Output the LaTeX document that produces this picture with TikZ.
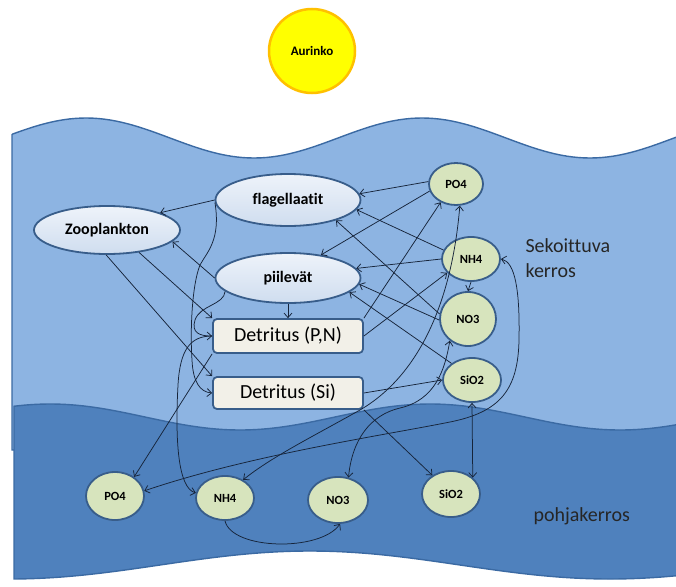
\documentclass[tikz,border=0pt]{standalone}
\usepackage{fontspec}
\setmainfont{Carlito}[Ligatures={NoCommon,NoContextual}]
\usetikzlibrary{arrows.meta,shapes.geometric}

\definecolor{lightsea}{HTML}{8DB4E2}
\definecolor{deepsea}{HTML}{4F81BD}
\definecolor{seaedge}{HTML}{3B6AA3}
\definecolor{elltop}{HTML}{EEF3FA}
\definecolor{ellbot}{HTML}{CFDDEF}
\definecolor{nodeedge}{HTML}{385D8A}
\definecolor{nutfill}{HTML}{D7E4BD}
\definecolor{detfill}{HTML}{F2F0E8}
\definecolor{sunfill}{HTML}{FFFF00}
\definecolor{sunedge}{HTML}{FFC000}
\definecolor{linkcol}{HTML}{16243A}

\begin{document}
\begin{tikzpicture}[x=1pt,y=-1pt,
  organism/.style={ellipse, draw=nodeedge, line width=1.8pt, top color=elltop, bottom color=ellbot,
    inner sep=0pt, font=\bfseries\fontsize{16}{18}\selectfont},
  nutrient/.style={ellipse, draw=nodeedge, line width=1.8pt, fill=nutfill, inner sep=0pt,
    font=\bfseries\fontsize{12.5}{14}\selectfont},
  detbox/.style={rectangle, rounded corners=4pt, draw=nodeedge, line width=1.8pt, fill=detfill,
    minimum width=150pt, inner sep=0pt, font=\fontsize{20}{22}\selectfont},
  layertext/.style={anchor=base west, text=black!85, font=\fontsize{20}{24}\selectfont},
  link/.style={draw=linkcol, line width=0.75pt, -{Straight Barb[length=4.5pt,width=8pt]}},
  dlink/.style={draw=linkcol, line width=0.75pt, {Straight Barb[length=4.5pt,width=8pt]}-{Straight Barb[length=4.5pt,width=8pt]}}
]
\useasboundingbox (0,0) rectangle (676,586);
\clip (0,0) rectangle (676,586);

% water layers
\filldraw[fill=lightsea, draw=seaedge, line width=1.4pt]
  (12,450) -- (12,134)
  -- plot[domain=12:700, samples=120] (\x,{138-20*cos((\x-86)*1.071429)})
  -- (700,450) -- cycle;
\filldraw[fill=deepsea, draw=seaedge, line width=1.4pt]
  (14,407)
  -- plot[domain=14:700, samples=120] (\x,{417-13*cos((\x-50)*0.947368)})
  -- plot[domain=700:14, samples=120] (\x,{565+14*cos((\x-10)*0.6)})
  -- cycle;

% sun
\node[ellipse, minimum width=86pt, minimum height=84pt, inner sep=0pt, fill=sunfill, draw=sunedge,
  line width=2.5pt, font=\bfseries\fontsize{13}{15}\selectfont] (sun) at (312,51) {Aurinko};

% organisms
\node[organism, minimum width=145pt, minimum height=52pt] (flag) at (288,200) {flagellaatit};
\node[organism, minimum width=145pt, minimum height=50pt] (piil) at (288,278) {piilevät};
\node[organism, minimum width=146pt, minimum height=48pt] (zoo) at (107,230) {Zooplankton};

% detritus
\node[detbox, minimum height=34pt] (detpn) at (288,336) {Detritus (P,N)};
\node[detbox, minimum height=32pt] (detsi) at (288,393) {Detritus (Si)};

% nutrients, mixed layer
\node[nutrient, minimum width=54pt, minimum height=42pt] (po4t) at (456,184) {PO4};
\node[nutrient, minimum width=58pt, minimum height=44pt] (nh4t) at (471,259) {NH4};
\node[nutrient, minimum width=56pt, minimum height=54pt] (no3t) at (468,319) {NO3};
\node[nutrient, minimum width=58pt, minimum height=44pt] (sio2t) at (472,380) {SiO2};

% nutrients, bottom layer
\node[nutrient, minimum width=58pt, minimum height=48pt] (po4b) at (115,496) {PO4};
\node[nutrient, minimum width=58pt, minimum height=44pt] (nh4b) at (225,498) {NH4};
\node[nutrient, minimum width=60pt, minimum height=46pt] (no3b) at (338,500) {NO3};
\node[nutrient, minimum width=58pt, minimum height=46pt] (sio2b) at (451,494) {SiO2};

% layer labels
\node[layertext] (sek) at (522,252) {Sekoittuva};
\node[layertext] (ker) at (522,277) {kerros};
\node[layertext] (pohja) at (530,521) {pohjakerros};

% connectors
\draw[link] (flag.west) -- (zoo.18);
\draw[link] (piil.west) -- (zoo.-10);
\draw[link] (po4t.175) -- (flag.5);
\draw[link] (po4t.195) -- (piil.35);
\draw[link] (nh4t.162) -- (flag.-8);
\draw[link] (nh4t.180) -- (piil.8);
\draw[link] (no3t.170) -- (flag.-23);
\draw[link] (no3t.182) -- (piil.-5);
\draw[link] (sio2t.141) -- (piil.-13);
\draw[link] (piil.south) -- (detpn.north);
\draw[link] (detpn.north east) -- (po4t.230);
\draw[link] (detpn.east) -- (nh4t.210);
\draw[link] (detsi.east) -- (sio2t.180);
\draw[link] (nh4t.south) -- (no3t.north);
\draw[link] (zoo.-35) -- (detpn.north west);
\draw[link] (zoo.-92) -- (detsi.north west);
\draw[link] (flag.182) .. controls (221,240) and (207,252) .. (200,265)
  .. controls (192,285) and (190,330) .. (192,360)
  .. controls (193,382) and (200,392) .. (detsi.west);
\draw[link] (piil.192) .. controls (224,305) and (200,305) .. (195,320)
  .. controls (191,333) and (200,336) .. (detpn.west);
\draw[link] (detpn.west) .. controls (190,336) and (180,350) .. (178,385)
  .. controls (175,440) and (178,488) .. (nh4b.170);
\draw[link] (detpn.south west) -- (po4b.45);
\draw[link] (detsi.south east) -- (sio2b.135);
\draw[dlink] (sio2t.south) -- (sio2b.37);
\draw[dlink] (no3b.65) .. controls (352,440) and (370,415) .. (400,408)
  .. controls (435,400) and (445,370) .. (no3t.230);
\draw[link] (nh4b.south) .. controls (232,550) and (320,552) .. (no3b.-85);
\draw[dlink] (po4t.-80) .. controls (452,300) and (420,375) .. (360,410)
  .. controls (310,438) and (270,458) .. (nh4b.45);
\draw[dlink] (nh4t.east) .. controls (515,262) and (520,290) .. (519,340)
  .. controls (518,390) and (500,412) .. (450,422)
  .. controls (380,436) and (250,455) .. (po4b.10);
\end{tikzpicture}
\end{document}
